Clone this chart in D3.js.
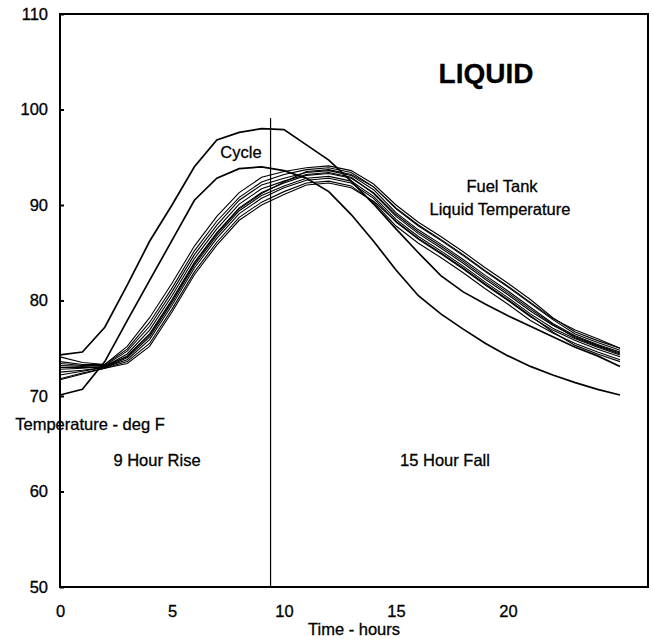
<!DOCTYPE html>
<html>
<head>
<meta charset="utf-8">
<script src="https://cdn.jsdelivr.net/npm/d3@7"></script>
<style>
  body { margin: 0; background: #fff; }
  svg { display: block; font-family: "Liberation Sans", Arial, sans-serif; }
  text { stroke: #000; stroke-width: 0.3px; }
</style>
</head>
<body>
<svg width="654" height="640"></svg>
<script>
// hourly readings, 0..25 h
const hours = [0, 1, 2, 3, 4, 5, 6, 7, 8, 9, 10, 11, 12, 13, 14, 15, 16, 17, 18, 19, 20, 21, 22, 23, 24, 25];

// ambient cycles
const cycleHigh = [74.3, 74.6, 77.2, 81.6, 86.2, 90.0, 94.0, 96.8, 97.6, 98.0, 97.9, 96.3, 94.7, 92.5, 90.1, 87.5, 85.0, 82.6, 80.9, 79.6, 78.4, 77.3, 76.2, 75.1, 74.2, 73.1];
const cycleLow = [70.1, 70.7, 73.6, 77.9, 82.1, 86.3, 90.5, 92.8, 93.8, 94.0, 93.6, 92.8, 91.4, 89.0, 86.2, 83.2, 80.5, 78.6, 77.0, 75.5, 74.2, 73.1, 72.2, 71.4, 70.7, 70.1];

// fuel tank liquid temperature runs
const liquid1 = [74.1, 73.5, 73.3, 75.2, 78.2, 81.8, 85.7, 88.8, 91.3, 92.9, 93.5, 93.9, 94.1, 93.6, 92.2, 90.0, 88.2, 86.7, 85.1, 83.4, 81.8, 80.1, 78.2, 76.7, 75.8, 75.0];
const liquid2 = [73.6, 73.3, 73.3, 74.9, 77.7, 81.3, 85.2, 88.3, 90.8, 92.4, 93.2, 93.7, 93.9, 93.4, 91.9, 89.6, 87.8, 86.3, 84.7, 83.0, 81.4, 79.7, 78.0, 76.5, 75.6, 74.8];
const liquid3 = [73.2, 73.1, 73.2, 74.7, 77.3, 80.9, 84.8, 87.9, 90.5, 92.1, 92.8, 93.4, 93.6, 93.1, 91.6, 89.2, 87.4, 85.9, 84.3, 82.6, 81.0, 79.3, 77.6, 76.3, 75.4, 74.6];
const liquid4 = [72.8, 72.9, 73.1, 74.4, 76.9, 80.5, 84.4, 87.5, 90.1, 91.7, 92.5, 93.2, 93.4, 92.9, 91.2, 88.8, 87.0, 85.5, 83.9, 82.2, 80.6, 78.9, 77.4, 76.2, 75.3, 74.5];
const liquid5 = [72.5, 72.7, 73.0, 74.2, 76.5, 80.1, 84.0, 87.1, 89.7, 91.3, 92.3, 93.1, 93.3, 92.8, 91.3, 89.0, 87.2, 85.7, 84.1, 82.4, 80.8, 79.1, 77.5, 76.1, 75.2, 74.4];
const liquid6 = [72.2, 72.6, 73.0, 74.0, 76.2, 79.8, 83.7, 86.8, 89.4, 91.0, 92.0, 92.8, 93.0, 92.5, 90.9, 88.5, 86.7, 85.2, 83.6, 81.9, 80.3, 78.6, 77.1, 76.0, 75.1, 74.3];
const liquid7 = [73.0, 73.0, 73.0, 73.8, 75.9, 79.5, 83.4, 86.5, 89.1, 90.7, 91.8, 92.6, 92.8, 92.3, 90.7, 88.2, 86.4, 84.9, 83.3, 81.6, 80.0, 78.3, 76.9, 75.8, 74.9, 74.1];
const liquid8 = [71.8, 72.4, 72.9, 73.6, 75.5, 79.1, 83.0, 86.1, 88.7, 90.3, 91.4, 92.3, 92.5, 92.0, 90.3, 87.8, 86.0, 84.5, 82.9, 81.2, 79.6, 77.9, 76.6, 75.5, 74.6, 73.8];
const liquid9 = [71.7, 72.3, 72.9, 73.4, 75.2, 78.8, 82.7, 85.8, 88.4, 90.0, 91.1, 92.1, 92.3, 91.8, 90.4, 88.3, 86.5, 85.0, 83.4, 81.7, 80.1, 78.4, 76.7, 75.3, 74.4, 73.6];
const liquid10 = [73.4, 73.2, 73.2, 74.1, 76.4, 80.0, 83.9, 87.0, 89.6, 91.2, 92.4, 93.5, 93.7, 93.2, 91.9, 89.7, 87.9, 86.4, 84.8, 83.1, 81.5, 79.8, 78.1, 76.9, 76.0, 75.0];

const xTicks = [0, 5, 10, 15, 20];
const yTicks = [50, 60, 70, 80, 90, 100, 110];

// end of the rise phase
const riseEnd = 9.4;
const riseLineTop = 99.1;

const svg = d3.select('svg');
const plot = { left: 60, right: 648, top: 14, bottom: 587 };

const x = d3.scaleLinear().domain([0, 26.25]).range([plot.left, plot.right]);
const y = d3.scaleLinear().domain([50, 110]).range([plot.bottom, plot.top]);

const allSeries = [liquid1, liquid2, liquid3, liquid4, liquid5, liquid6, liquid7, liquid8, liquid9, liquid10];

const line = d3.line()
  .x((d, i) => x(hours[i]))
  .y(d => y(d));

// liquid bundle
svg.append('g')
  .selectAll('path')
  .data(allSeries)
  .join('path')
  .attr('d', line)
  .attr('fill', 'none')
  .attr('stroke', '#000')
  .attr('stroke-width', 1.1);

// cycles
svg.append('g')
  .selectAll('path')
  .data([cycleHigh, cycleLow])
  .join('path')
  .attr('d', line)
  .attr('fill', 'none')
  .attr('stroke', '#000')
  .attr('stroke-width', 1.7);

// divider between rise and fall
svg.append('line')
  .attr('x1', x(riseEnd)).attr('x2', x(riseEnd))
  .attr('y1', y(riseLineTop)).attr('y2', y(50))
  .attr('stroke', '#000')
  .attr('stroke-width', 1.2);

// frame
svg.append('rect')
  .attr('x', plot.left).attr('y', plot.top)
  .attr('width', plot.right - plot.left)
  .attr('height', plot.bottom - plot.top)
  .attr('fill', 'none')
  .attr('stroke', '#000')
  .attr('stroke-width', 2);

// axes
const yAxis = svg.append('g')
  .attr('transform', `translate(${plot.left},0)`)
  .call(d3.axisLeft(y).tickValues(yTicks).tickSizeInner(-4).tickSizeOuter(0).tickPadding(12));
yAxis.select('.domain').remove();
yAxis.selectAll('line').attr('stroke', '#000').attr('stroke-width', 2);
yAxis.selectAll('text').attr('font-size', 16.5).attr('fill', '#000').attr('font-family', null);

const xAxis = svg.append('g')
  .attr('transform', `translate(0,${plot.bottom})`)
  .call(d3.axisBottom(x).tickValues(xTicks).tickSize(0).tickPadding(18));
xAxis.select('.domain').remove();
xAxis.selectAll('text').attr('font-size', 16.5).attr('fill', '#000').attr('font-family', null);

// labels
const labels = [
  { text: 'LIQUID', x: 486, y: 83, size: 28, weight: 'bold' },
  { text: 'Cycle', x: 241, y: 158, size: 16.5 },
  { text: 'Fuel Tank', x: 502, y: 192, size: 16.5 },
  { text: 'Liquid Temperature', x: 500, y: 215, size: 16.5 },
  { text: 'Temperature - deg F', x: 90, y: 430, size: 16.5 },
  { text: '9 Hour Rise', x: 157, y: 466, size: 16.5 },
  { text: '15 Hour Fall', x: 445, y: 466, size: 16.5 },
  { text: 'Time - hours', x: 354, y: 635, size: 16.5 }
];

svg.append('g')
  .selectAll('text')
  .data(labels)
  .join('text')
  .attr('x', d => d.x)
  .attr('y', d => d.y)
  .attr('text-anchor', 'middle')
  .attr('font-size', d => d.size)
  .attr('font-weight', d => d.weight || 'normal')
  .text(d => d.text);
</script>
</body>
</html>
